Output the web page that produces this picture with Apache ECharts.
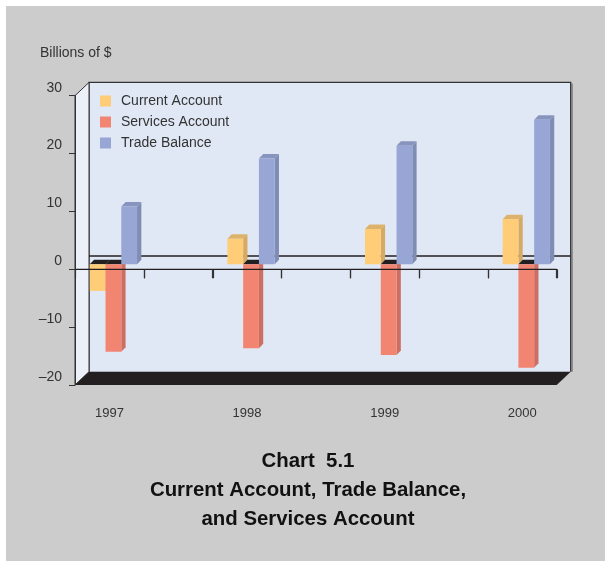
<!DOCTYPE html>
<html>
<head>
<meta charset="utf-8">
<script src="https://cdn.jsdelivr.net/npm/echarts@6/dist/echarts.min.js"></script>
<style>
html,body{margin:0;padding:0;background:#fff;}
#chart{width:605px;height:563px;}
</style>
</head>
<body>
<div id="chart"></div>
<script>
// ---- data ----
const categories = ['1997', '', '1998', '', '1999', '', '2000'];
const yearIndex = [0, 2, 4, 6];
const currentAccount = [-4.6, 4.4, 6.1, 7.8];
const servicesAccount = [-15.1, -14.5, -15.7, -17.9];
const tradeBalance = [10.0, 18.3, 20.5, 25.0];
const yMin = -20, yMax = 30, yInterval = 10;
const seriesNames = ['Current Account', 'Services Account', 'Trade Balance'];

// ---- styles ----
const FONT = '"Liberation Sans", Arial, sans-serif';
const WALL_DX = 14, WALL_DY = 13.3;     // depth of chart box
const SHIFT_X = 4, SHIFT_Y = 5;         // bar row position inside box
const BAR_DX = 4.3, BAR_DY = 4.5;       // bar depth
const BAR_FRAC = 0.229;
const DARK = '#231F20';
const palette = [
  {front: '#FFCC77', side: '#D6AA62', top: '#DDB36B'},
  {front: '#F28472', side: '#CC6E62', top: '#D7776A'},
  {front: '#98A6D5', side: '#7F8DB5', top: '#8794BE'}
];

function pts(a) { return a.map(p => [p[0], p[1]]); }

function barRenderer(s) {
  const col = palette[s];
  return function (params, api) {
    const i = api.value(0), v = api.value(1);
    const c = api.coord([i, 0]);
    const band = api.size([1, 0])[0];
    const w = band * BAR_FRAC;
    const x0 = c[0] - 1.5 * w + s * w + SHIFT_X;
    const y0 = c[1] - SHIFT_Y;
    const y1 = api.coord([i, v])[1] - SHIFT_Y;
    const ch = [];
    if (v >= 0) {
      ch.push({type: 'polygon', shape: {points: pts([[x0 + w, y1], [x0 + w + BAR_DX, y1 - BAR_DY], [x0 + w + BAR_DX, y0 - BAR_DY], [x0 + w, y0]])}, style: {fill: col.side}});
      ch.push({type: 'polygon', shape: {points: pts([[x0, y1], [x0 + w, y1], [x0 + w + BAR_DX, y1 - BAR_DY], [x0 + BAR_DX, y1 - BAR_DY]])}, style: {fill: col.top}});
      ch.push({type: 'rect', shape: {x: x0, y: y1, width: w, height: y0 - y1}, style: {fill: col.front}});
    } else {
      ch.push({type: 'polygon', shape: {points: pts([[x0 + w, y0], [x0 + w + BAR_DX, y0 - BAR_DY], [x0 + w + BAR_DX, y1 - BAR_DY], [x0 + w, y1]])}, style: {fill: col.side}});
      ch.push({type: 'polygon', shape: {points: pts([[x0, y0], [x0 + w, y0], [x0 + w + BAR_DX, y0 - BAR_DY], [x0 + BAR_DX, y0 - BAR_DY]])}, style: {fill: DARK}});
      ch.push({type: 'rect', shape: {x: x0, y: y0, width: w, height: y1 - y0}, style: {fill: col.front}});
    }
    return {type: 'group', children: ch};
  };
}

function boxGeom(api) {
  const band = api.size([1, 0])[0];
  const left = api.coord([0, 0])[0] - band / 2;
  const right = api.coord([categories.length - 1, 0])[0] + band / 2;
  const top = api.coord([0, yMax])[1];
  const bottom = api.coord([0, yMin])[1];
  const zero = api.coord([0, 0])[1];
  return {band, left, right, top, bottom, zero};
}

function frameRenderer(params, api) {
  const g = boxGeom(api);
  const bl = g.left + WALL_DX, br = g.right + WALL_DX, bt = g.top - WALL_DY, bb = g.bottom - WALL_DY;
  return {type: 'group', children: [
    {type: 'rect', shape: {x: bl, y: bt, width: br - bl, height: bb - bt}, style: {fill: '#E1E8F5'}},
    {type: 'polyline', shape: {points: [[br + 1.5, bt + 1], [br + 1.5, bb]]}, style: {stroke: '#8a8a8a', lineWidth: 1.5, fill: null}},
    {type: 'polyline', shape: {points: [[bl, bb], [bl, bt], [br, bt], [br, bb]]}, style: {stroke: '#333', lineWidth: 1.3, fill: null}},
    {type: 'polygon', shape: {points: [[g.left, g.top], [bl, bt], [bl, bb], [g.left, g.bottom]]}, style: {fill: '#ECF0F9', stroke: '#333', lineWidth: 1}},
    {type: 'line', shape: {x1: bl, y1: g.zero - WALL_DY, x2: br, y2: g.zero - WALL_DY}, style: {stroke: DARK, lineWidth: 1.5}},
    {type: 'polygon', shape: {points: [[g.left, g.bottom], [g.right, g.bottom], [br, bb], [bl, bb]]}, style: {fill: DARK}}
  ]};
}

function frontZeroRenderer(params, api) {
  const g = boxGeom(api);
  const ch = [{type: 'line', shape: {x1: g.left, y1: g.zero, x2: g.right, y2: g.zero}, style: {stroke: DARK, lineWidth: 1.3}}];
  for (let k = 1; k <= categories.length; k++) {
    const x = Math.round(g.left + k * g.band) + 0.5;
    ch.push({type: 'line', shape: {x1: x, y1: g.zero, x2: x, y2: g.zero + 9}, style: {stroke: '#333', lineWidth: 1.2}});
  }
  return {type: 'group', children: ch};
}

const seriesValues = [currentAccount, servicesAccount, tradeBalance];

const option = {
  backgroundColor: '#ffffff',
  animation: false,
  graphic: [{type: 'rect', left: 6, top: 6, shape: {width: 599, height: 555}, style: {fill: '#CCCCCC'}, z: -10}],
  title: [
    {text: 'Billions of $', left: 40, top: 46, padding: 0,
      textStyle: {fontFamily: FONT, fontSize: 14, fontWeight: 'normal', color: '#333', lineHeight: 14}},
    {text: 'Chart  5.1\nCurrent Account, Trade Balance,\nand Services Account', left: 308, top: 447, padding: 0, textAlign: 'center',
      textStyle: {fontFamily: FONT, fontSize: 20.4, fontWeight: 'bold', color: '#111', lineHeight: 29}}
  ],
  legend: {
    data: seriesNames, orient: 'vertical', left: 100, top: 94, padding: 0,
    icon: 'rect', itemWidth: 11, itemHeight: 11, itemGap: 7,
    textStyle: {fontFamily: FONT, fontSize: 14, color: '#333', lineHeight: 14, padding: [0, 0, 0, 5]},
    z: 6
  },
  grid: {left: 75, right: 48.3, top: 95.7, bottom: 178, containLabel: false},
  xAxis: {
    type: 'category', data: categories, boundaryGap: true, z: 5,
    axisLine: {show: true, lineStyle: {color: DARK, width: 1}},
    axisTick: {show: true, length: 9, interval: 0, lineStyle: {color: '#333', width: 1.2}},
    axisLabel: {interval: 0, margin: 22, fontFamily: FONT, fontSize: 13, color: '#333'},
    splitLine: {show: false}
  },
  yAxis: {
    type: 'value', min: yMin, max: yMax, interval: yInterval, z: 5,
    axisLine: {show: true, lineStyle: {color: '#333', width: 1}},
    axisTick: {show: true, length: 6, lineStyle: {color: '#333'}},
    axisLabel: {margin: 13, fontFamily: FONT, fontSize: 14, color: '#333', verticalAlign: 'bottom', lineHeight: 14, padding: [0, 0, 1, 0],
      formatter: v => String(v).replace('-', '\u2013')},
    splitLine: {show: false}
  },
  series: [
    {type: 'custom', name: 'frame', z: 1, silent: true, renderItem: frameRenderer, data: [[0, 0]]},
    ...seriesNames.map((name, s) => ({
      type: 'custom', name, z: 2,
      itemStyle: {color: palette[s].front},
      renderItem: barRenderer(s),
      encode: {x: 0, y: 1},
      data: yearIndex.map((ci, k) => [ci, seriesValues[s][k]])
    })),
    {type: 'custom', name: 'zero', z: 3, silent: true, renderItem: frontZeroRenderer, data: [[0, 0]]}
  ]
};

const chart = echarts.init(document.getElementById('chart'), null, {renderer: 'canvas'});
chart.setOption(option);
</script>
</body>
</html>
